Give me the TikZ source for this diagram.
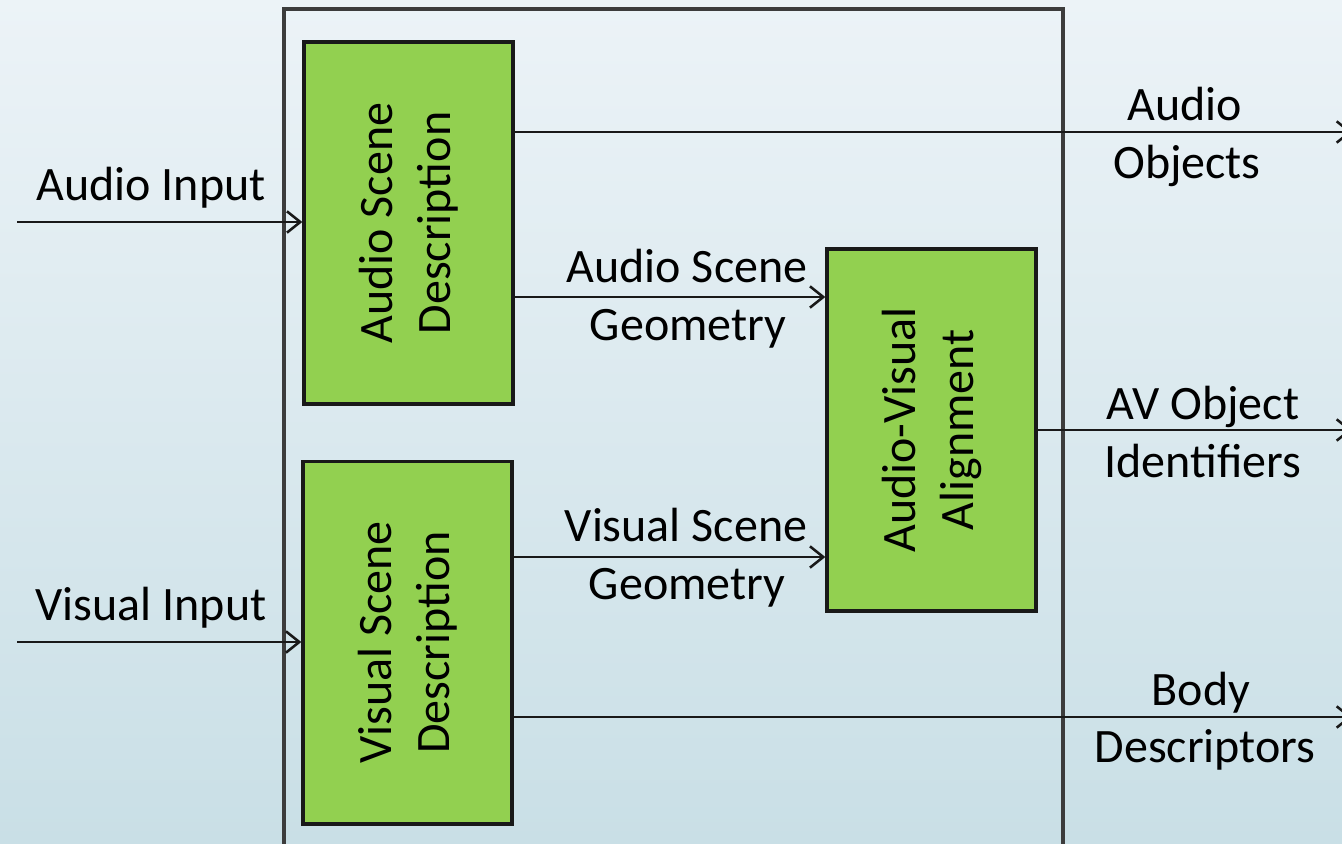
\documentclass[tikz,border=0pt]{standalone}
\usepackage{fontspec}
\setmainfont{Carlito}
\usetikzlibrary{arrows.meta}
\definecolor{bgtop}{RGB}{236,243,247}
\definecolor{bgbot}{RGB}{201,223,230}
\definecolor{boxgreen}{RGB}{146,208,80}
\definecolor{framegray}{RGB}{60,60,60}
\tikzset{
  stage/.style={draw=black!90, line width=2.5pt, fill=boxgreen, inner sep=0pt},
  lbl/.style={font=\fontsize{36}{43.5}\selectfont, align=center, inner sep=0pt},
  conn/.style={line width=1.9pt, draw=black!90, -{Straight Barb[length=10pt,width=16pt,line width=1.9pt]}},
}
\begin{document}
\begin{tikzpicture}[x=0.75pt,y=-0.75pt]
\shade[top color=bgtop, bottom color=bgbot] (0,0) rectangle (1342,843);
\useasboundingbox (0,0) rectangle (1342,843);
% outer frame
\draw[framegray, line width=2.4pt] (284,860) -- (284,9) -- (1063,9) -- (1063,860);
% boxes
\node[stage, minimum width=156.75pt, minimum height=271.5pt] (asd) at (408.5,223) {};
\node[stage, minimum width=156.75pt, minimum height=272pt] (vsd) at (407.5,642.5) {};
\node[stage, minimum width=156.75pt, minimum height=271.5pt] (ava) at (931.5,430) {};
\node[lbl, rotate=90] (asdt) at (asd.center) {Audio Scene\\Description};
\node[lbl, rotate=90] (vsdt) at (vsd.center) {Visual Scene\\Description};
\node[lbl, rotate=90] (avat) at (ava.center) {Audio-Visual\\Alignment};
% free ends
\coordinate (ain) at (17,222);
\coordinate (vin) at (17,642);
\coordinate (aout) at (1352,132);
\coordinate (avout) at (1352,430);
\coordinate (bout) at (1352,717);
% connectors
\draw[conn] (ain) -- (ain -| asd.west);
\draw[conn] (vin) -- (vin -| vsd.west);
\draw[conn] (asd.east |- aout) -- (aout);
\draw[conn] (ava.east |- avout) -- (avout);
\draw[conn] (vsd.east |- bout) -- (bout);
\coordinate (asg) at (0,297);
\coordinate (vsg) at (0,557);
\draw[conn] (asd.east |- asg) -- (ava.west |- asg);
\draw[conn] (vsd.east |- vsg) -- (ava.west |- vsg);
% labels
\node[lbl, anchor=base] (l1) at (151,200) {Audio Input};
\node[lbl, anchor=base] (l2) at (151,620) {Visual Input};
\node[lbl, anchor=base] (l3) at (1185,120) {Audio};
\node[lbl, anchor=base] (l3b) at (1187,178) {Objects};
\node[lbl, anchor=base] (l4) at (687,282) {Audio Scene};
\node[lbl, anchor=base] (l4b) at (688,340) {Geometry};
\node[lbl, anchor=base] (l5) at (686,541) {Visual Scene};
\node[lbl, anchor=base] (l5b) at (687,599) {Geometry};
\node[lbl, anchor=base] (l6) at (1203,419) {AV Object};
\node[lbl, anchor=base] (l6b) at (1203,477) {Identifiers};
\node[lbl, anchor=base] (l7) at (1201,705) {Body};
\node[lbl, anchor=base] (l7b) at (1205,762) {Descriptors};
\end{tikzpicture}
\end{document}
